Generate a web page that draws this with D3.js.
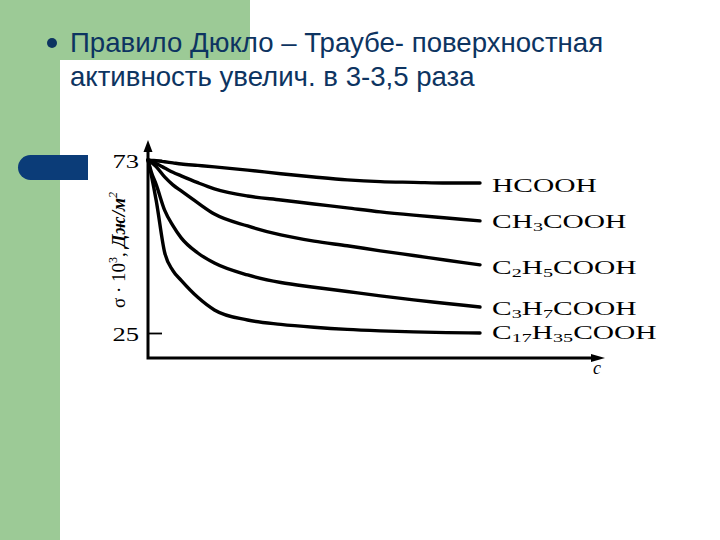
<!DOCTYPE html>
<html><head><meta charset="utf-8">
<script src="https://cdn.jsdelivr.net/npm/d3@7"></script>
<style>
html,body{margin:0;padding:0;background:#fff;}
svg{display:block;}
</style></head>
<body>
<svg id="chart" width="720" height="540"></svg>
<script>
// ---------- data ----------
const concentration = [0, 0.1, 0.25, 0.5, 0.75, 1, 1.5, 2, 3, 4, 5, 6, 7, 8, 9, 10];
const seriesNames = ["HCOOH", "CH3COOH", "C2H5COOH", "C3H7COOH", "C17H35COOH"];
const hcooh      = [73, 72.9, 72.8, 72.5, 72.2, 71.9, 71.5, 71.1, 70.2, 69.2, 68.3, 67.5, 67.0, 66.8, 66.6, 66.6];
const ch3cooh    = [73, 72.6, 72.0, 70.8, 69.6, 68.6, 66.7, 65.0, 63.0, 61.9, 60.8, 59.7, 58.6, 57.7, 56.9, 56.1];
const c2h5cooh   = [73, 72.3, 71.1, 68.3, 66.1, 64.4, 61.1, 58.0, 54.7, 52.2, 50.5, 49.2, 47.8, 46.5, 45.2, 43.9];
const c3h7cooh   = [73, 69.7, 66.1, 59.1, 54.8, 51.4, 47.2, 44.4, 41.1, 39.0, 37.7, 36.5, 35.3, 34.2, 33.2, 32.2];
const c17h35cooh = [73, 68.8, 61.6, 47.4, 42.3, 39.6, 34.9, 31.4, 28.6, 27.4, 26.6, 26.0, 25.6, 25.3, 25.1, 25.0];
const seriesValues = [hcooh, ch3cooh, c2h5cooh, c3h7cooh, c17h35cooh];
const yTickValues = [25, 73];
const yTickLabels = ["25", "73"];
const titleLines = ["Правило Дюкло – Траубе- поверхностная", "активность увелич. в 3-3,5 раза"];
const yAxisTitle = { main: "σ · 10", sup1: "3", sep: ", ", unit: "Дж/м", sup2: "2" };
const xAxisTitle = "c";

// ---------- layout ----------
const svg = d3.select("#chart");
const GREEN = "#9cca96", NAVY = "#0d3461", PILL = "#0b3c78";

// slide decoration
svg.append("rect").attr("x",0).attr("y",0).attr("width",720).attr("height",540).attr("fill","#fff");
svg.append("rect").attr("x",0).attr("y",0).attr("width",250).attr("height",60).attr("fill",GREEN);
svg.append("rect").attr("x",0).attr("y",0).attr("width",60).attr("height",540).attr("fill",GREEN);
svg.append("rect").attr("x",60).attr("y",60).attr("width",720).attr("height",560).attr("rx",12).attr("fill","#fff");
svg.append("path").attr("d","M30.5,155 H88 V180 H30.5 A12.5,12.5 0 0 1 30.5,155 Z").attr("fill",PILL);

// title
svg.append("circle").attr("cx",52).attr("cy",43).attr("r",5).attr("fill",NAVY);
svg.selectAll("text.title").data(titleLines).join("text")
  .attr("class","title")
  .attr("x",70).attr("y",(d,i)=>52+i*34)
  .attr("font-family","'Liberation Sans', Arial, sans-serif")
  .attr("font-size",27.6)
  .attr("fill",NAVY)
  .text(d=>d);

// ---------- scales ----------
const originX = 148, axisY = 358, axisTop = 142, axisRight = 603;
const x = d3.scaleLinear().domain([0, 10]).range([originX, 480]);
const y = d3.scaleLinear().domain([25, 73]).range([333, 160]);

const g = svg.append("g");

// curves
const line = d3.line()
  .x((d,i)=>x(concentration[i]))
  .y(d=>y(d))
  .curve(d3.curveMonotoneX);
g.selectAll("path.curve").data(seriesValues).join("path")
  .attr("class","curve")
  .attr("d",d=>line(d))
  .attr("fill","none")
  .attr("stroke","#000")
  .attr("stroke-width",3.4)
  .attr("stroke-linejoin","round")
  .attr("stroke-linecap","round");

// y axis ticks and labels
const yAxis = d3.axisLeft(y).tickValues(yTickValues)
  .tickFormat((d,i)=>yTickLabels[i]).tickSizeInner(-14).tickSizeOuter(0).tickPadding(9);
const ya = g.append("g").attr("transform",`translate(${originX},0)`).call(yAxis);
ya.select(".domain").remove();
ya.selectAll("line").attr("stroke","#000").attr("stroke-width",1.8);
ya.selectAll("text")
  .attr("font-family","'Liberation Serif', 'Times New Roman', serif")
  .attr("font-size",19).attr("fill","#000")
  .attr("dy","0.38em")
  .attr("transform","scale(1.4,1)").attr("x",-9/1.4);

// axis lines with arrows
g.append("path")
  .attr("d",`M${originX},${axisTop+6} V${axisY} H${axisRight-8}`)
  .attr("fill","none").attr("stroke","#000").attr("stroke-width",3);
g.append("path")
  .attr("d",`M${originX},${axisTop-2} L${originX-4.5},${axisTop+10} L${originX+4.5},${axisTop+10} Z`)
  .attr("fill","#000");
g.append("path")
  .attr("d",`M${axisRight+2},${axisY} L${axisRight-12},${axisY-4} L${axisRight-12},${axisY+4} Z`)
  .attr("fill","#000");

// x axis title
g.append("text").attr("x",593).attr("y",374)
  .attr("font-family","'Liberation Serif', 'Times New Roman', serif")
  .attr("font-style","italic").attr("font-size",18).text(xAxisTitle);

// y axis title
const yt = g.append("text")
  .attr("transform","translate(125,250) rotate(-90)")
  .attr("text-anchor","middle")
  .attr("font-family","'Liberation Serif', 'Times New Roman', serif")
  .attr("font-size",19).attr("fill","#000");
yt.append("tspan").text(yAxisTitle.main);
yt.append("tspan").attr("dy",-8).attr("font-size",12).text(yAxisTitle.sup1);
yt.append("tspan").attr("dy",8).text(yAxisTitle.sep);
yt.append("tspan").attr("font-style","italic").attr("font-weight","bold").text(yAxisTitle.unit);
yt.append("tspan").attr("dy",-8).attr("font-size",12).attr("font-style","italic").text(yAxisTitle.sup2);

// series labels with subscripts
const labelBaselineOffset = [9, 7, 9, 8, 6];
seriesNames.forEach((name,i)=>{
  const last = seriesValues[i][seriesValues[i].length-1];
  const lg = g.append("g")
    .attr("transform",`translate(492,${y(last)+labelBaselineOffset[i]}) scale(1.55,1)`);
  const t = lg.append("text")
    .attr("font-family","'Liberation Serif', 'Times New Roman', serif")
    .attr("font-size",19).attr("fill","#000");
  const parts = name.match(/\d+|\D+/g);
  let shifted = false;
  parts.forEach(p=>{
    const isNum = /^\d+$/.test(p);
    const ts = t.append("tspan").text(p);
    if (isNum) { ts.attr("font-size",13).attr("dy",shifted?0:3); shifted = true; }
    else { if (shifted) ts.attr("dy",-3); shifted = false; }
  });
});
</script>
</body></html>
